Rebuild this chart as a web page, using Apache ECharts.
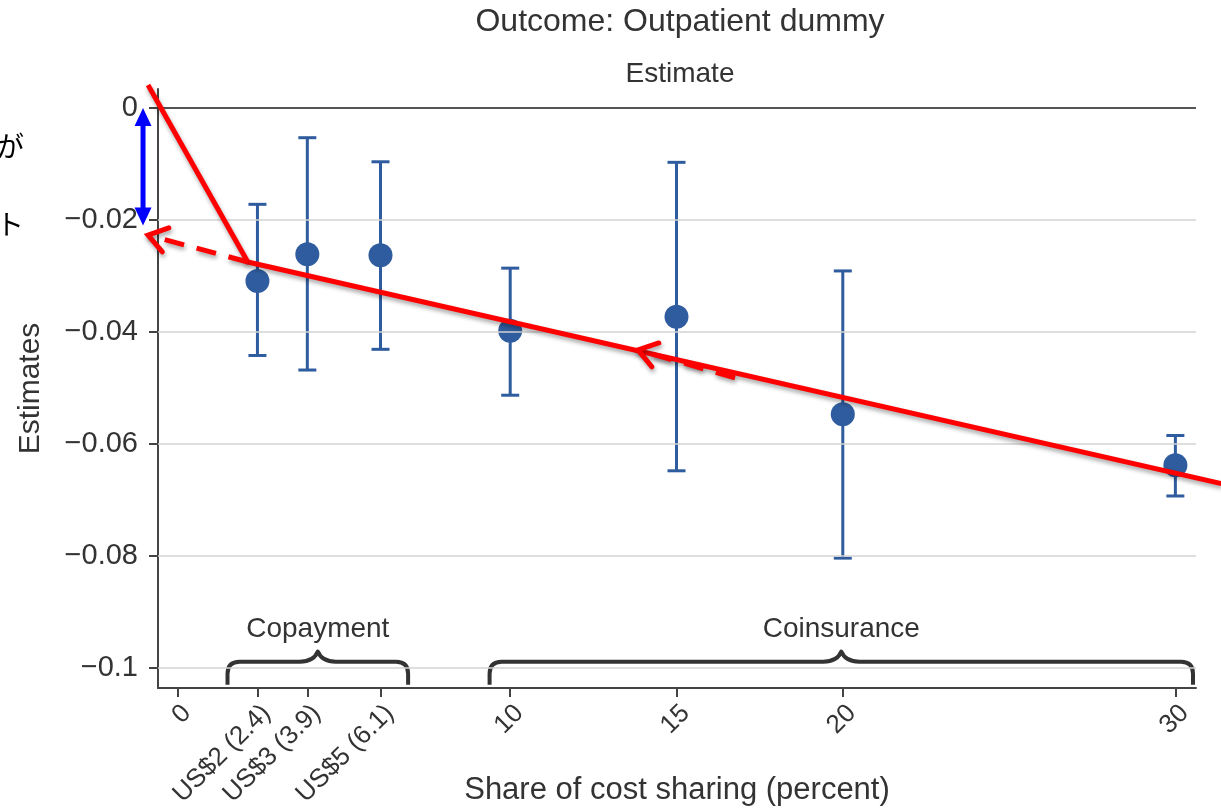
<!DOCTYPE html>
<html>
<head>
<meta charset="utf-8">
<script src="https://cdn.jsdelivr.net/npm/echarts@6/dist/echarts.min.js"></script>
<style>
  html, body { margin: 0; padding: 0; background: #fff; }
  #chart { width: 1221px; height: 808px; }
</style>
</head>
<body>
<div id="chart"></div>
<script>
// Cost-sharing levels (percent) and their coefficient estimates with 95% CIs
const shares    = [2.4, 3.9, 6.1, 10, 15, 20, 30];
const estimates = [-0.0309, -0.0261, -0.0263, -0.0398, -0.0373, -0.0547, -0.0638];
const ciLow     = [-0.0442, -0.0468, -0.0431, -0.0513, -0.0648, -0.0804, -0.0693];
const ciHigh    = [-0.0172, -0.0053, -0.0096, -0.0286, -0.0097, -0.0291, -0.0585];

// Axis ticks
const xTicks      = [0, 2.4, 3.9, 6.1, 10, 15, 20, 30];
const xTickLabels = ['0', 'US$2 (2.4)', 'US$3 (3.9)', 'US$5 (6.1)', '10', '15', '20', '30'];
const yTicks      = [0, -0.02, -0.04, -0.06, -0.08, -0.1];

// Groups of cost-sharing schemes (brace spans along x)
const groupNames = ['Copayment', 'Coinsurance'];
const groupStart = [1.5, 9.38];
const groupEnd   = [6.93, 30.53];

// Hand-drawn annotations, in data units
const trendLine   = [[-0.89, 0.0041], [2.11, -0.0275], [31.38, -0.0671]];
const dashArrows  = [
  [[2.11, -0.0275], [-0.89, -0.0227]],
  [[16.76, -0.0482], [13.84, -0.0432]]
];
const gapArrow    = [[-1.04, 0], [-1.04, -0.021]];
const noteLines   = ['定額負担の導入で受診確率が', '約2%ポイント'];

const BLUE = '#2f5c9e';
const FONT = '"Liberation Sans", Arial, Helvetica, sans-serif';

const chart = echarts.init(document.getElementById('chart'));

const shadow = {
  shadowBlur: 4,
  shadowColor: 'rgba(0,0,0,0.35)',
  shadowOffsetX: 1,
  shadowOffsetY: 3
};

function chevron(tip, tail, len, spread) {
  const ang = Math.atan2(tail[1] - tip[1], tail[0] - tip[0]);
  const a1 = ang + spread, a2 = ang - spread;
  return [
    [tip[0] + len * Math.cos(a1), tip[1] + len * Math.sin(a1)],
    tip,
    [tip[0] + len * Math.cos(a2), tip[1] + len * Math.sin(a2)]
  ];
}

function triangle(tip, tail, len, half) {
  const ang = Math.atan2(tail[1] - tip[1], tail[0] - tip[0]);
  const bx = tip[0] + len * Math.cos(ang), by = tip[1] + len * Math.sin(ang);
  const nx = -Math.sin(ang), ny = Math.cos(ang);
  return [tip, [bx + nx * half, by + ny * half], [bx - nx * half, by - ny * half]];
}

const option = {
  backgroundColor: '#fff',
  animation: false,
  grid: { left: 158, right: 25, top: 89, bottom: 120, containLabel: false, outerBoundsMode: 'none' },
  xAxis: {
    type: 'value',
    min: -0.59,
    max: 30.62,
    name: 'Share of cost sharing (percent)',
    nameLocation: 'middle',
    nameGap: 87,
    nameMoveOverlap: false,
    nameTextStyle: { fontFamily: FONT, fontSize: 31, color: '#333' },
    axisLine: { show: true, onZero: false, lineStyle: { color: '#444', width: 2 } },
    axisTick: { show: true, customValues: xTicks, length: 9, lineStyle: { color: '#444', width: 2 } },
    axisLabel: {
      customValues: xTicks,
      rotate: 45,
      margin: 12,
      verticalAlign: 'top',
      fontFamily: FONT,
      fontSize: 26,
      color: '#333',
      formatter: function (v) {
        const i = xTicks.indexOf(v);
        return i >= 0 ? xTickLabels[i] : '';
      }
    },
    splitLine: { show: false }
  },
  yAxis: {
    type: 'value',
    min: -0.1036,
    max: 0.0034,
    name: 'Estimates',
    nameLocation: 'middle',
    nameGap: 112,
    nameRotate: 90,
    nameMoveOverlap: false,
    nameTextStyle: { fontFamily: FONT, fontSize: 30, color: '#333' },
    axisLine: { show: true, onZero: false, lineStyle: { color: '#444', width: 2 } },
    axisTick: { show: true, customValues: yTicks, length: 9, lineStyle: { color: '#444', width: 2 } },
    axisLabel: {
      customValues: yTicks,
      margin: 20,
      fontFamily: FONT,
      fontSize: 29,
      color: '#333',
      formatter: function (v) {
        return v === 0 ? '0' : String(v).replace('-', '\u2212');
      }
    },
    splitLine: { show: false }
  },
  graphic: [
    {
      type: 'text', x: 680, y: 22, silent: true,
      style: { text: 'Outcome: Outpatient dummy', textAlign: 'center', textVerticalAlign: 'middle',
               font: '32px ' + FONT, fill: '#333' }
    },
    {
      type: 'text', x: 680, y: 74, silent: true,
      style: { text: 'Estimate', textAlign: 'center', textVerticalAlign: 'middle',
               font: '28px ' + FONT, fill: '#333' }
    },
    {
      type: 'text', x: 24, y: 146, silent: true,
      style: { text: noteLines[0], textAlign: 'right', textVerticalAlign: 'middle',
               font: '28px "Noto Sans CJK JP"', fill: '#000' }
    },
    {
      type: 'text', x: 24, y: 224, silent: true,
      style: { text: noteLines[1], textAlign: 'right', textVerticalAlign: 'middle',
               font: '28px "Noto Sans CJK JP"', fill: '#000' }
    }
  ],
  series: [
    // horizontal grid lines and the zero reference line
    {
      type: 'line',
      data: [],
      silent: true,
      markLine: {
        silent: true,
        symbol: ['none', 'none'],
        label: { show: false },
        animation: false,
        data: yTicks.map(function (t) {
          return {
            yAxis: t,
            lineStyle: t === 0
              ? { color: '#555', width: 2, type: 'solid' }
              : { color: '#d3d3d3', width: 1.5, type: 'solid' }
          };
        })
      }
    },
    // confidence intervals
    {
      type: 'custom',
      z: 3,
      data: shares.map(function (s, i) { return [s, ciLow[i], ciHigh[i]]; }),
      encode: { x: 0, y: [1, 2] },
      renderItem: function (params, api) {
        const x = api.value(0);
        const lo = api.coord([x, api.value(1)]);
        const hi = api.coord([x, api.value(2)]);
        const cap = 9;
        const st = { stroke: BLUE, lineWidth: 3 };
        return {
          type: 'group',
          children: [
            { type: 'line', shape: { x1: lo[0], y1: lo[1], x2: hi[0], y2: hi[1] }, style: st },
            { type: 'line', shape: { x1: lo[0] - cap, y1: lo[1], x2: lo[0] + cap, y2: lo[1] }, style: st },
            { type: 'line', shape: { x1: hi[0] - cap, y1: hi[1], x2: hi[0] + cap, y2: hi[1] }, style: st }
          ]
        };
      }
    },
    // point estimates
    {
      type: 'scatter',
      z: 4,
      symbol: 'circle',
      symbolSize: 24,
      itemStyle: { color: BLUE, opacity: 1 },
      data: shares.map(function (s, i) { return [s, estimates[i]]; })
    },
    // braces grouping the schemes
    {
      type: 'custom',
      z: 3,
      silent: true,
      data: groupNames.map(function (n, i) { return [groupStart[i], groupEnd[i]]; }),
      renderItem: function (params, api) {
        const a = api.value(0), b = api.value(1);
        const mid = (a + b) / 2;
        const pL = api.coord([a, -0.0989]);
        const pR = api.coord([b, -0.0989]);
        const pEnd = api.coord([a, -0.1030]);
        const pPeak = api.coord([mid, -0.0971]);
        const pText = api.coord([mid, -0.0932]);
        const yb = pEnd[1], yh = pL[1], xc = pPeak[0], yp = pPeak[1];
        const r = 12;
        const path =
          'M' + pL[0] + ' ' + yb +
          ' L' + pL[0] + ' ' + (yh + r) +
          ' Q' + pL[0] + ' ' + yh + ' ' + (pL[0] + r) + ' ' + yh +
          ' L' + (xc - 18) + ' ' + yh +
          ' Q' + (xc - 4) + ' ' + yh + ' ' + xc + ' ' + yp +
          ' Q' + (xc + 4) + ' ' + yh + ' ' + (xc + 18) + ' ' + yh +
          ' L' + (pR[0] - r) + ' ' + yh +
          ' Q' + pR[0] + ' ' + yh + ' ' + pR[0] + ' ' + (yh + r) +
          ' L' + pR[0] + ' ' + yb;
        return {
          type: 'group',
          children: [
            {
              type: 'path',
              shape: { pathData: path },
              style: { fill: 'none', stroke: '#333', lineWidth: 4, lineCap: 'butt', lineJoin: 'round' }
            },
            {
              type: 'text',
              x: pText[0], y: pText[1],
              style: {
                text: groupNames[params.dataIndex],
                textAlign: 'center', textVerticalAlign: 'middle',
                font: '28px ' + FONT, fill: '#333'
              }
            }
          ]
        };
      }
    },
    // annotations: trend line, dashed arrows, gap arrow
    {
      type: 'custom',
      z: 10,
      silent: true,
      clip: false,
      data: [[0, 0]],
      renderItem: function (params, api) {
        const children = [];
        const red = '#ff0000';
        const tl = trendLine.map(function (p) { return api.coord(p); });
        children.push({
          type: 'polyline',
          shape: { points: tl },
          style: Object.assign({ fill: 'none', stroke: red, lineWidth: 5, lineJoin: 'miter' }, shadow)
        });
        dashArrows.forEach(function (arr) {
          const tail = api.coord(arr[0]);
          const tip = api.coord(arr[1]);
          children.push({
            type: 'line',
            shape: { x1: tail[0], y1: tail[1], x2: tip[0], y2: tip[1] },
            style: Object.assign({ stroke: red, lineWidth: 5, lineDash: [20, 13] }, shadow)
          });
          children.push({
            type: 'polyline',
            shape: { points: chevron(tip, tail, 22, 0.6) },
            style: Object.assign({ fill: 'none', stroke: red, lineWidth: 5, lineCap: 'round' }, shadow)
          });
        });
        const g0 = api.coord(gapArrow[0]);
        const g1 = api.coord(gapArrow[1]);
        const head = 18;
        children.push({
          type: 'line',
          shape: { x1: g0[0], y1: g0[1] + head - 2, x2: g1[0], y2: g1[1] - head + 2 },
          style: { stroke: '#0000ff', lineWidth: 5 }
        });
        children.push({ type: 'polygon', shape: { points: triangle(g0, g1, head, 8.5) }, style: { fill: '#0000ff' } });
        children.push({ type: 'polygon', shape: { points: triangle(g1, g0, head, 8.5) }, style: { fill: '#0000ff' } });
        return { type: 'group', children: children };
      }
    }
  ]
};

chart.setOption(option);
</script>
</body>
</html>
